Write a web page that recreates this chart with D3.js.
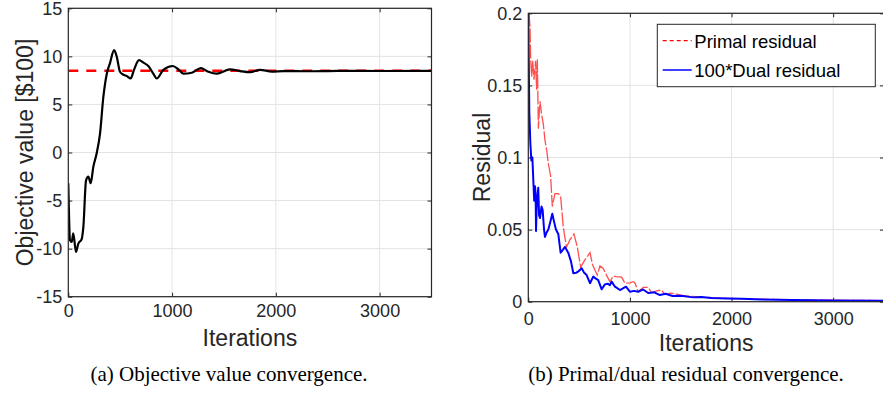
<!DOCTYPE html>
<html>
<head>
<meta charset="utf-8">
<script src="https://cdn.jsdelivr.net/npm/d3@7"></script>
<style>
  html, body { margin: 0; padding: 0; background: #ffffff; }
  svg { display: block; }
</style>
</head>
<body>
<svg id="chart" width="883" height="394"></svg>
<script>
// ---------------- DATA ----------------
const xTicks = [0, 1000, 2000, 3000];
const xDomain = [0, 3500];

// (a) Objective value convergence
const objYTicks = [-15, -10, -5, 0, 5, 10, 15];
const objIter  = [0, 5, 16, 33, 48, 74, 96, 129, 145, 171, 193, 216, 241, 273, 306, 338, 371, 402, 441, 467, 498, 530, 563, 601, 633, 682, 723, 771, 819, 852, 916, 1007, 1061, 1109, 1190, 1277, 1350, 1431, 1559, 1655, 1752, 1848, 1961, 2073, 2300, 2600, 3000, 3500];
const objValue = [-3.2, -5.7, -9.1, -9.3, -8.4, -10.35, -9.5, -9.0, -7.75, -2.9, -2.5, -3.2, -1.5, -0.1, 2.0, 5.8, 8.2, 9.3, 10.65, 9.96, 8.4, 8.1, 7.95, 7.7, 8.6, 9.6, 9.35, 9.0, 8.2, 7.7, 8.6, 9.0, 8.65, 8.2, 8.3, 8.78, 8.4, 8.2, 8.65, 8.47, 8.35, 8.6, 8.42, 8.47, 8.45, 8.5, 8.48, 8.5];
const objOptimal = 8.5;

// (b) Primal/dual residual convergence
const resYTicks = [0, 0.05, 0.1, 0.15, 0.2];
const primalIter  = [0, 7, 17, 23, 33, 43, 56, 72, 82, 89, 99, 115, 131, 148, 164, 181, 197, 220, 236, 262, 295, 318, 344, 361, 377, 410, 449, 482, 515, 557, 607, 633, 678, 705, 737, 777, 803, 836, 862, 918, 951, 1000, 1032, 1049, 1082, 1131, 1180, 1213, 1262, 1311, 1344, 1400, 1442, 1500, 1557, 1650, 1721, 1850, 1983, 2200, 2376, 2700, 2999, 3458, 3500];
const primalValue = [0.2, 0.2, 0.19, 0.169, 0.156, 0.167, 0.154, 0.167, 0.147, 0.168, 0.12, 0.139, 0.13, 0.123, 0.112, 0.105, 0.096, 0.087, 0.066, 0.075, 0.075, 0.073, 0.052, 0.044, 0.038, 0.043, 0.047, 0.038, 0.024, 0.029, 0.034, 0.0255, 0.0185, 0.0248, 0.023, 0.0174, 0.0139, 0.0178, 0.0174, 0.017, 0.0128, 0.013, 0.0139, 0.013, 0.0069, 0.010, 0.010, 0.0062, 0.0075, 0.0081, 0.005, 0.006, 0.0055, 0.0045, 0.004, 0.0035, 0.003, 0.0027, 0.0023, 0.0019, 0.0016, 0.0013, 0.001, 0.0008, 0.0008];
const dualIter  = [0, 5, 10, 20, 30, 40, 49, 58, 66, 72, 76, 82, 98, 106, 115, 130, 141, 155, 164, 180, 197, 215, 236, 255, 272, 295, 318, 340, 361, 393, 420, 443, 470, 492, 525, 550, 574, 607, 639, 665, 688, 722, 754, 780, 803, 820, 853, 902, 961, 1000, 1040, 1082, 1130, 1180, 1240, 1295, 1350, 1420, 1500, 1622, 1700, 1800, 1951, 2100, 2300, 2606, 3000, 3485, 3500];
const dualValue = [0.2, 0.165, 0.131, 0.11, 0.098, 0.1, 0.085, 0.07, 0.08, 0.075, 0.049, 0.065, 0.079, 0.06, 0.058, 0.066, 0.0637, 0.05, 0.045, 0.048, 0.05, 0.055, 0.061, 0.055, 0.05, 0.047, 0.034, 0.036, 0.038, 0.034, 0.028, 0.0197, 0.02, 0.021, 0.0232, 0.02, 0.0185, 0.0128, 0.0174, 0.016, 0.015, 0.0086, 0.012, 0.0125, 0.0115, 0.0139, 0.0104, 0.0081, 0.0104, 0.0069, 0.0075, 0.0069, 0.0085, 0.006, 0.0065, 0.0046, 0.0055, 0.004, 0.0042, 0.003, 0.0033, 0.0025, 0.0022, 0.002, 0.0016, 0.0012, 0.0009, 0.0007, 0.0007];

const legendLabels = ["Primal residual", "100*Dual residual"];
const captions = ["(a) Objective value convergence.", "(b) Primal/dual residual convergence."];
const yLabels = ["Objective value [$100]", "Residual"];
const xLabel = "Iterations";

// ---------------- DRAW ----------------
const svg = d3.select("#chart");
const AX = "#262626", GRID = "#e3e3e3";
const SANS = "'Liberation Sans', Arial, Helvetica, sans-serif";
const SERIF = "'Liberation Serif', 'Times New Roman', serif";

function panel(cfg) {
  const x = d3.scaleLinear().domain(xDomain).range([cfg.left, cfg.right]);
  const y = d3.scaleLinear().domain(cfg.yDomain).range([cfg.bottom, cfg.top]);
  const g = svg.append("g");
  const clipId = "clip" + cfg.id;
  svg.append("clipPath").attr("id", clipId).append("rect")
    .attr("x", cfg.left).attr("y", cfg.top)
    .attr("width", cfg.right - cfg.left).attr("height", cfg.bottom - cfg.top);

  // grid
  g.append("g").selectAll("line").data(xTicks.filter(d => d > xDomain[0])).join("line")
    .attr("x1", d => x(d)).attr("x2", d => x(d)).attr("y1", cfg.top).attr("y2", cfg.bottom)
    .attr("stroke", GRID).attr("stroke-width", 1);
  g.append("g").selectAll("line").data(cfg.yTicks).join("line")
    .attr("x1", cfg.left).attr("x2", cfg.right).attr("y1", d => y(d)).attr("y2", d => y(d))
    .attr("stroke", GRID).attr("stroke-width", 1);

  // axes
  const fmt = d => String(d);
  const bottomAx = g.append("g").attr("transform", `translate(0,${cfg.bottom})`)
    .call(d3.axisBottom(x).tickValues(xTicks).tickFormat(fmt).tickSize(-4).tickPadding(cfg.xPad));
  const leftAx = g.append("g").attr("transform", `translate(${cfg.left},0)`)
    .call(d3.axisLeft(y).tickValues(cfg.yTicks).tickFormat(fmt).tickSize(-4).tickPadding(6));
  const topAx = g.append("g").attr("transform", `translate(0,${cfg.top})`)
    .call(d3.axisTop(x).tickValues(xTicks).tickFormat("").tickSize(-4));
  const rightAx = g.append("g").attr("transform", `translate(${cfg.right},0)`)
    .call(d3.axisRight(y).tickValues(cfg.yTicks).tickFormat("").tickSize(-4));
  [bottomAx, leftAx, topAx, rightAx].forEach(a => {
    a.select(".domain").remove();
    a.selectAll(".tick line").attr("stroke", AX).attr("stroke-width", 1);
    a.selectAll(".tick text").attr("fill", AX).style("font-family", SANS).style("font-size", "18px");
  });

  // data lines
  const plot = g.append("g").attr("clip-path", `url(#${clipId})`);
  cfg.draw(plot, x, y);

  // frame
  g.append("rect").attr("x", cfg.left).attr("y", cfg.top)
    .attr("width", cfg.right - cfg.left).attr("height", cfg.bottom - cfg.top)
    .attr("fill", "none").attr("stroke", AX).attr("stroke-width", 1.2);

  // labels
  g.append("text").attr("x", (cfg.left + cfg.right) / 2).attr("y", cfg.xLabelY)
    .attr("text-anchor", "middle").attr("fill", AX)
    .style("font-family", SANS).style("font-size", "23px").text(xLabel);
  g.append("text")
    .attr("transform", `translate(${cfg.yLabelX},${(cfg.top + cfg.bottom) / 2}) rotate(-90)`)
    .attr("text-anchor", "middle").attr("fill", AX)
    .style("font-family", SANS).style("font-size", "23px").text(cfg.yLabel);
  svg.append("text").attr("x", cfg.capX).attr("y", 381)
    .attr("text-anchor", "middle").attr("fill", "#000")
    .style("font-family", SERIF).style("font-size", "21px").text(cfg.caption);
  return { x, y, g };
}

// Panel (a)
panel({
  id: "a", left: 68.3, right: 431.5, top: 8.3, bottom: 296.7,
  yDomain: [-15, 15], yTicks: objYTicks, xPad: 8,
  xLabelY: 345.5, yLabelX: 33, yLabel: yLabels[0], caption: captions[0], capX: 229,
  draw: (p, x, y) => {
    p.append("line").attr("x1", x(xDomain[0])).attr("x2", x(xDomain[1]))
      .attr("y1", y(objOptimal)).attr("y2", y(objOptimal))
      .attr("stroke", "#ff0000").attr("stroke-width", 2.5).attr("stroke-dasharray", "10,8");
    const pts = objIter.map((d, i) => [d, objValue[i]]);
    p.append("path").datum(pts)
      .attr("d", d3.line().x(d => x(d[0])).y(d => y(d[1])).curve(d3.curveMonotoneX))
      .attr("fill", "none").attr("stroke", "#000").attr("stroke-width", 2.2)
      .attr("stroke-linejoin", "round");
  }
});

// Panel (b)
panel({
  id: "b", left: 528.3, right: 884, top: 13.3, bottom: 301.7,
  yDomain: [0, 0.2], yTicks: resYTicks, xPad: 10.5,
  xLabelY: 351, yLabelX: 490, yLabel: yLabels[1], caption: captions[1], capX: 686,
  draw: (p, x, y) => {
    const prim = primalIter.map((d, i) => [d, primalValue[i]]);
    const dual = dualIter.map((d, i) => [d, dualValue[i]]);
    const line = d3.line().x(d => x(d[0])).y(d => y(d[1]));
    p.append("path").datum(prim).attr("d", line)
      .attr("fill", "none").attr("stroke", "#ff3030").attr("stroke-width", 1.3)
      .attr("stroke-opacity", 0.85).attr("stroke-dasharray", "14,2");
    p.append("path").datum(dual).attr("d", line)
      .attr("fill", "none").attr("stroke", "#0000ff").attr("stroke-width", 2)
      .attr("stroke-linejoin", "round");
  }
});

// Legend (b)
const lg = svg.append("g");
lg.append("rect").attr("x", 657.3).attr("y", 24.3).attr("width", 218).attr("height", 62.4)
  .attr("fill", "#fff").attr("stroke", AX).attr("stroke-width", 1);
const legendStyles = [
  { color: "#ff0000", dash: "4,3", width: 1.3 },
  { color: "#0000ff", dash: null, width: 1.5 }
];
legendLabels.forEach((lab, i) => {
  const cy = 40.7 + i * 29.3;
  lg.append("line").attr("x1", 662.7).attr("x2", 691.7).attr("y1", cy).attr("y2", cy)
    .attr("stroke", legendStyles[i].color).attr("stroke-width", legendStyles[i].width)
    .attr("stroke-dasharray", legendStyles[i].dash);
  lg.append("text").attr("x", 694.3).attr("y", cy + 7.2).attr("fill", "#000")
    .style("font-family", SANS).style("font-size", "18.5px").text(lab);
});
</script>
</body>
</html>
